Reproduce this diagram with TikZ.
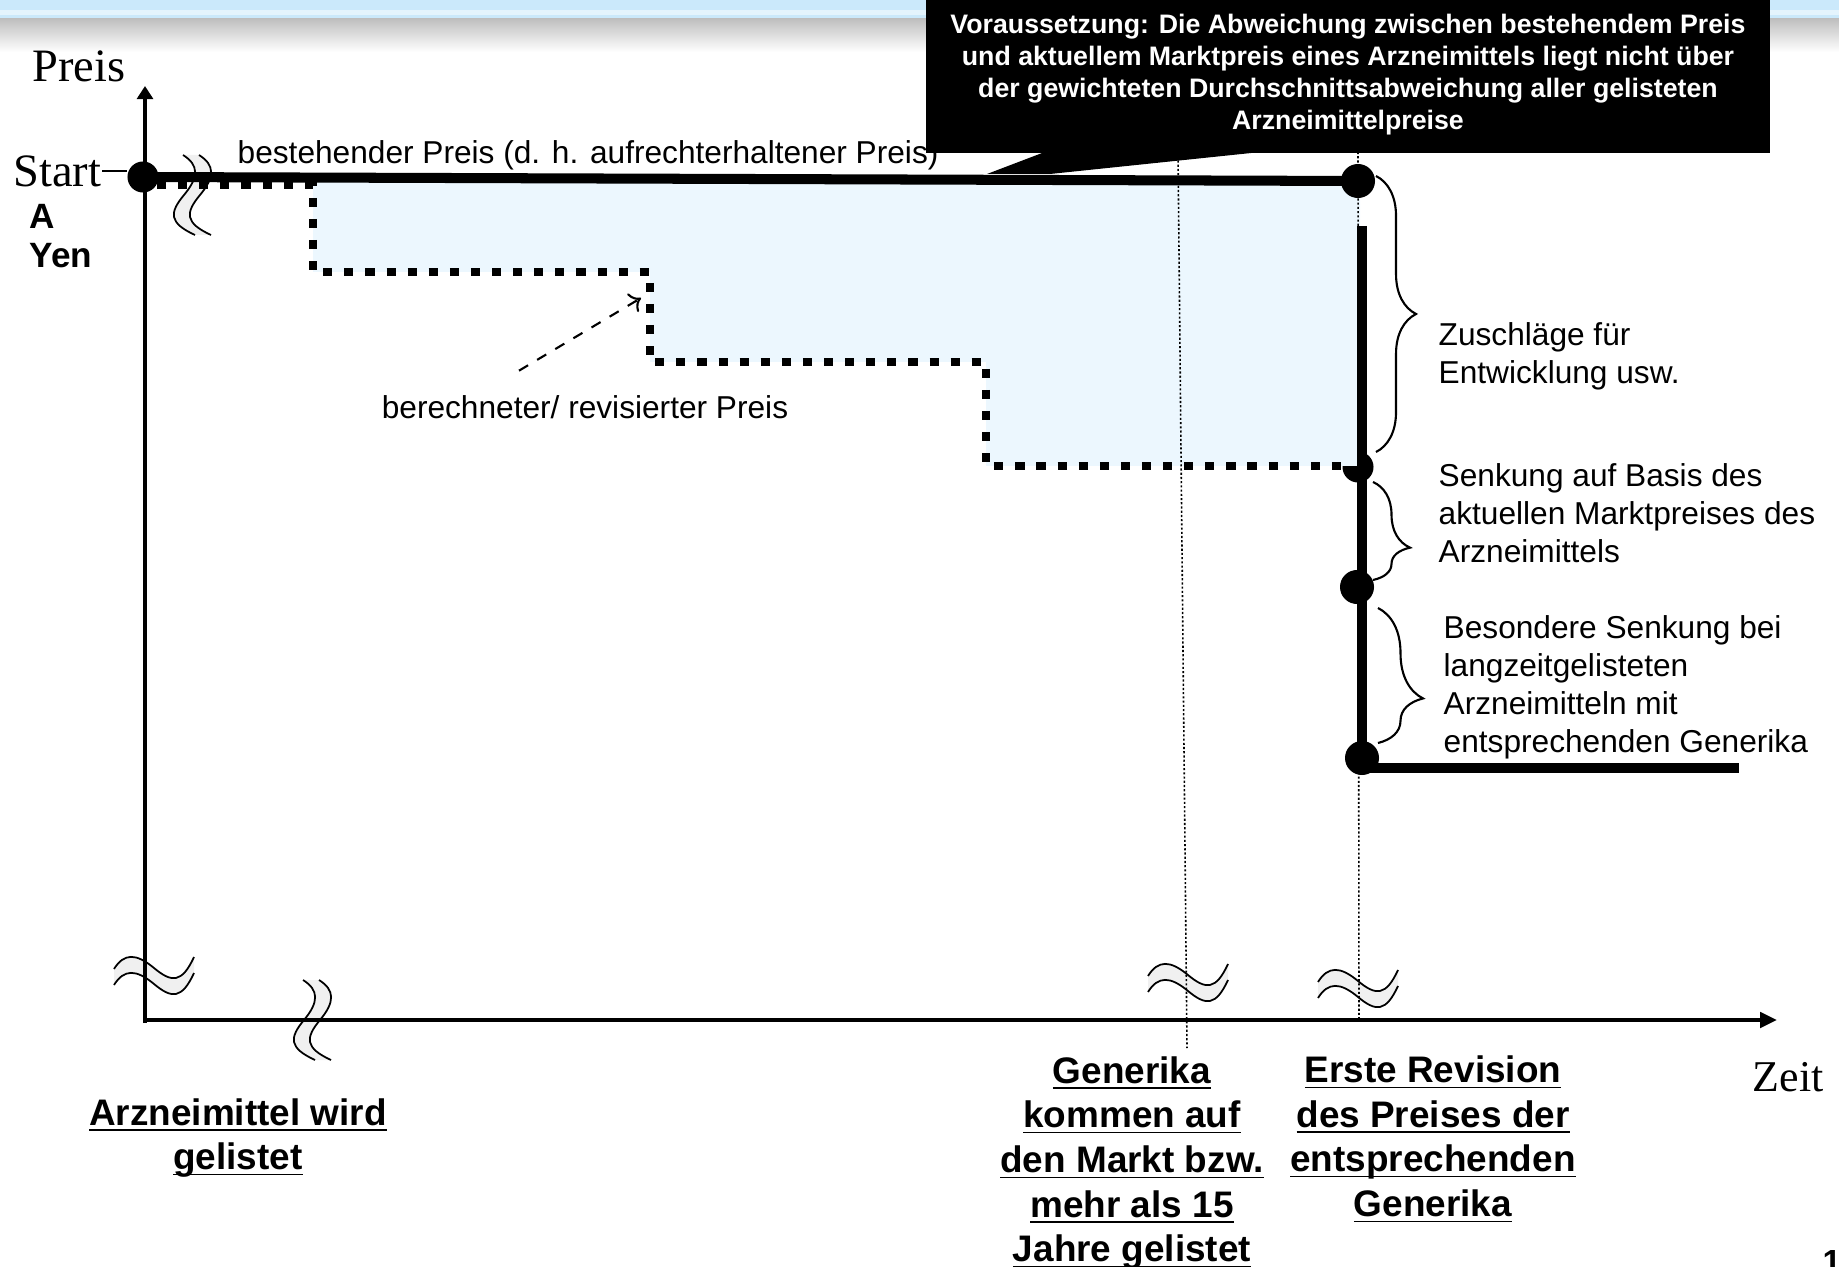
\documentclass[tikz,border=0pt]{standalone}
\usepackage{fontspec}
\setmainfont{Liberation Sans}
\newfontfamily\serifface{Liberation Serif}
\usetikzlibrary{arrows.meta,decorations.pathreplacing,positioning}

\definecolor{bandblue}{RGB}{203,233,251}
\definecolor{bandlight}{RGB}{228,244,253}
\definecolor{gapblue}{RGB}{236,247,254}
\definecolor{breakgray}{RGB}{240,240,240}

\newcommand{\evline}[1]{\underline{\smash{#1}}}

\tikzset{
  wave/.pic={
    \fill[breakgray] (-40,-6) .. controls (-30,-22) and (-18,-22) .. (0,-7)
      .. controls (18,8) and (28,8) .. (40,-18) -- (40,-2)
      .. controls (28,24) and (18,24) .. (0,9)
      .. controls (-18,-6) and (-30,-6) .. (-40,10) -- cycle;
    \draw[line width=0.5pt] (-40,-6) .. controls (-30,-22) and (-18,-22) .. (0,-7)
      .. controls (18,8) and (28,8) .. (40,-18);
    \draw[line width=0.5pt] (-40,10) .. controls (-30,-6) and (-18,-6) .. (0,9)
      .. controls (18,24) and (28,24) .. (40,-2);
  }
}

\begin{document}
\begin{tikzpicture}[x=0.01cm,y=-0.01cm,
  dot/.style={circle,fill=black,inner sep=0pt,minimum size=0.31cm},
  bigdot/.style={dot,minimum size=0.34cm},
  axis/.style={line width=1.3pt},
  priceline/.style={line width=2.85pt},
  calcline/.style={line width=2.3pt,dash pattern=on 2.6pt off 3.4pt},
  guide/.style={line width=0.45pt,dash pattern=on 0.6pt off 0.6pt},
  bracket/.style={decorate,decoration={brace,amplitude=#1},line width=0.6pt},
  axislabel/.style={font=\serifface\fontsize{13.2}{15}\selectfont,inner sep=0pt},
  note/.style={font=\fontsize{9}{10.8}\selectfont,align=left,anchor=west,inner sep=0pt},
  event/.style={font=\bfseries\fontsize{10.5}{12.7}\selectfont,align=center,inner sep=0pt}
]
\useasboundingbox (0,0) rectangle (1839,1267);

% header band
\fill[bandblue] (0,0) rectangle (1839,19);
\fill[bandlight] (0,10) rectangle (1839,15);
\shade[top color=black!25,bottom color=white] (0,19) rectangle (1839,52);

% break marks
\pic (brkstart) [rotate=-90] at (193,195) {wave};
\pic (brky) at (154,975) {wave};
\pic (brkx) [rotate=-90] at (313,1020) {wave};
\pic (brkgen) at (1188,982) {wave};
\pic (brkrev) at (1358,988) {wave};

% gap between existing and calculated price
\node[dot] (d2) at (1358,467) {};
\fill[gapblue] (313,182) -- (1360,182) -- (1360,466) -- (986,466) -- (986,362)
  -- (650,362) -- (650,272) -- (313,272) -- cycle;

% guides
\coordinate (gentop) at (1178,152);
\coordinate (genbot) at (1187,1048);
\coordinate (revtop) at (1358,152);
\coordinate (revbot) at (1359,1018);
\draw[guide] (gentop) -- (genbot);
\draw[guide] (revtop) -- (revbot);

% calculated / revised price
\draw[calcline] (157,185) -- (313,185) -- (313,272) -- (650,272) -- (650,362)
  -- (986,362) -- (986,466) -- (1348,466);

% axes
\coordinate (origin) at (145,1020);
\coordinate (ytop) at (145,86);
\coordinate (xend) at (1777,1020);
\draw[axis,-{Triangle[length=3.7pt,width=4.5pt]}] (145,1023) -- (ytop);
\draw[axis,-{Triangle[length=4.8pt,width=4.3pt]}] (143,1020) -- (xend);

% prices
\node[dot] (d0) at (143,177) {};
\node[bigdot] (d1) at (1358,181) {};
\node[bigdot] (d3) at (1357,587) {};
\node[bigdot] (d4) at (1362,758) {};
\coordinate (cut) at (1362,226);
\coordinate (tail) at (1739,768);
\draw[priceline] (d0.center) -- (d1.center);
\draw[priceline] (cut) -- (d4.center);
\draw[priceline] (1362,768) -- (tail);

% condition callout
\node[fill=black,text=white,minimum width=8.43cm,minimum height=1.56cm,
  font=\bfseries\fontsize{7.6}{9.1}\selectfont,align=center] (cond) at (1348,75)
  {Voraussetzung: Die Abweichung zwischen bestehendem Preis\\
   und aktuellem Marktpreis eines Arzneimittels liegt nicht über\\
   der gewichteten Durchschnittsabweichung aller gelisteten\\
   Arzneimittelpreise};
\fill (1050,150) -- (987,174) -- (1050,174) -- (1280,150) -- cycle;

% braces
\coordinate (b1a) at (1376,176);
\coordinate (b1b) at (1376,452);
\coordinate (b2a) at (1373,482);
\coordinate (b2b) at (1373,580);
\coordinate (b3a) at (1378,608);
\coordinate (b3b) at (1378,743);
\draw[bracket=0.4cm] (b1a) -- (b1b);
\draw[bracket=0.37cm,decoration={aspect=0.67}] (b2a) -- (b2b);
\draw[bracket=0.45cm,decoration={aspect=0.67}] (b3a) -- (b3b);

% labels
\node[axislabel] (preis) at (79,66) {Preis};
\node[axislabel,anchor=east] (start) at (102,171) {Start};
\draw[line width=0.6pt] (start.east) -- (start.east -| d0.west);
\node[font=\bfseries\fontsize{10}{11.1}\selectfont,align=left,anchor=north west,inner sep=0pt]
  (yen) at (29,204) {A\\Yen};
\node[axislabel,font=\serifface\fontsize{12.5}{14}\selectfont] (zeit) at (1788,1077) {Zeit};
\node[note] (exist) at (237,155) {bestehender Preis (d. h. aufrechterhaltener Preis)};
\node[note,anchor=center] (calc) at (585,407) {berechneter/ revisierter Preis};
\coordinate (calctip) at (641,298);
\draw[dashed,line width=0.6pt,->] (calc.north) ++(-66,-24) -- (calctip);
\node[note] (dev) at (1438,356) {Zuschläge für\\Entwicklung usw.};
\node[note] (market) at (1438,513) {Senkung auf Basis des\\aktuellen Marktpreises des\\Arzneimittels};
\node[note] (special) at (1443,687) {Besondere Senkung bei\\langzeitgelisteten\\Arzneimitteln mit\\entsprechenden Generika};

\node[event] (listed) at (238,1151) {\evline{Arzneimittel wird}\\\evline{gelistet}};
\node[event] (generic) at (1132,1176) {\evline{Generika}\\\evline{kommen auf}\\\evline{den Markt bzw.}\\\evline{mehr als 15}\\\evline{Jahre gelistet}};
\node[event] (revision) at (1433,1153) {\evline{Erste Revision}\\\evline{des Preises der}\\\evline{entsprechenden}\\\evline{Generika}};
\node[font=\bfseries\fontsize{9.5}{11}\selectfont] (page) at (1832,1262) {1};
\end{tikzpicture}
\end{document}
